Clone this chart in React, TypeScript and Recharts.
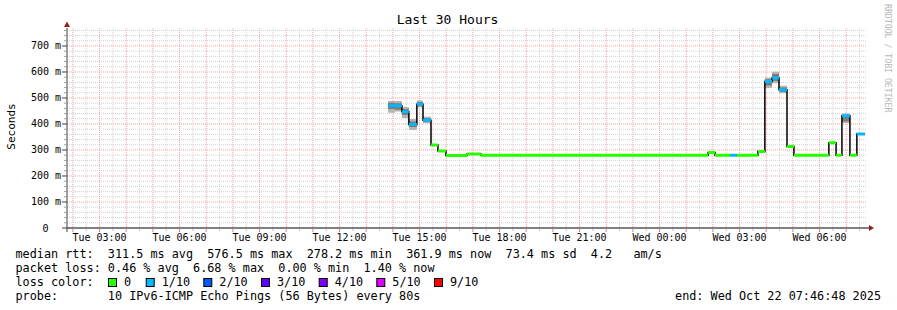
import React from 'react';
import { ComposedChart, Line, Area, XAxis, YAxis, CartesianGrid, ReferenceDot } from 'recharts';

// ---- data (time in hours since Tue 00:00, values in seconds) ----
const stepBounds = [13.82, 14.08, 14.34, 14.6, 14.9, 15.13, 15.43, 15.69, 15.99, 16.78, 17.3, 25.82, 26.08, 26.64, 26.9, 27.69, 27.95, 28.22, 28.48, 28.78, 29.04, 30.35, 30.62, 30.84, 31.14, 31.4, 31.7];
const medianRtt = [0.47, 0.47, 0.447, 0.398, 0.476, 0.414, 0.319, 0.296, 0.279, 0.285, 0.28, 0.29, 0.28, 0.28, 0.28, 0.294, 0.563, 0.577, 0.532, 0.313, 0.28, 0.328, 0.28, 0.432, 0.28, 0.362];
const lossLevel = [1, 1, 1, 1, 1, 1, 0, 0, 0, 0, 0, 0, 0, 1, 0, 0, 1, 1, 1, 0, 0, 0, 0, 1, 0, 1];
const smokeOuterLo = [0.443, 0.448, 0.423, 0.377, 0.464, 0.403, null, null, null, null, null, null, null, null, null, null, 0.538, 0.557, 0.518, null, null, null, null, 0.404, null, null];
const smokeOuterHi = [0.488, 0.488, 0.465, 0.419, 0.49, 0.428, null, null, null, null, null, null, null, null, null, null, 0.578, 0.601, 0.547, null, null, null, null, 0.44, null, null];
const smokeInnerLo = [0.458, 0.455, 0.435, 0.388, 0.468, 0.408, null, null, null, null, null, null, null, null, null, null, 0.548, 0.565, 0.524, null, null, null, null, 0.41, null, null];
const smokeInnerHi = [0.482, 0.48, 0.458, 0.41, 0.485, 0.422, null, null, null, null, null, null, null, null, null, null, 0.572, 0.592, 0.54, null, null, null, null, 0.436, null, null];

const lossColors = ['#26ff00', '#00b8ff', '#0059ff', '#5e00ff', '#7e00ff', '#dd00ff', '#ff0000'];
const lossLabels = ['0', '1/10', '2/10', '3/10', '4/10', '5/10', '9/10'];

const xLabelHours = [3, 6, 9, 12, 15, 18, 21, 24, 27, 30];
const xLabels = ['Tue 03:00', 'Tue 06:00', 'Tue 09:00', 'Tue 12:00', 'Tue 15:00', 'Tue 18:00', 'Tue 21:00', 'Wed 00:00', 'Wed 03:00', 'Wed 06:00'];

const statLines = [
  'median rtt:  311.5 ms avg  576.5 ms max  278.2 ms min  361.9 ms now  73.4 ms sd  4.2   am/s',
  'packet loss: 0.46 % avg  6.68 % max  0.00 % min  1.40 % now',
];
const probeLine = 'probe:       10 IPv6-ICMP Echo Pings (56 Bytes) every 80s';
const endLine = 'end: Wed Oct 22 07:46:48 2025';
const titleText = 'Last 30 Hours';

// ---- layout ----
const X0 = 1.78;
const X1 = 31.78;
const Y_MAX = 0.7692;
const FONT = '"DejaVu Sans Mono", monospace';

const majorX: number[] = [];
const minorX: number[] = [];
for (let h = 2; h <= 31; h++) majorX.push(h);
for (let h = 2; h <= 31; h++) minorX.push(h + 0.5);
const xTicks = [...majorX, ...minorX].filter((v) => v >= X0 && v <= X1).sort((a, b) => a - b);

const yTicks: number[] = [];
const majorY: number[] = [];
const minorY: number[] = [];
for (let k = 0; k <= 38; k++) {
  const v = (k * 2) / 100;
  yTicks.push(v);
  if (k % 5 === 0) {
    if (k > 0) majorY.push(v);
  } else minorY.push(v);
}

const rows: any[] = [];
for (let i = 0; i < medianRtt.length; i++) {
  const mk = (t: number) => {
    const r: any = { t, med: medianRtt[i] };
    lossColors.forEach((_, k) => {
      r['c' + k] = lossLevel[i] === k ? medianRtt[i] : null;
    });
    r.outer = smokeOuterLo[i] != null ? [smokeOuterLo[i], smokeOuterHi[i]] : null;
    r.inner = smokeInnerLo[i] != null ? [smokeInnerLo[i], smokeInnerHi[i]] : null;
    return r;
  };
  rows.push(mk(stepBounds[i]));
  rows.push(mk(stepBounds[i + 1]));
  if (i < medianRtt.length - 1) {
    const b: any = { t: stepBounds[i + 1], med: null, outer: null, inner: null };
    lossColors.forEach((_, k) => {
      b['c' + k] = null;
    });
    rows.push(b);
  }
}

const yPix = (props: any, v: number) => {
  const s = props && props.yAxis && props.yAxis.scale;
  if (typeof s === 'function') return s(v);
  const o = props.offset;
  return o.top + o.height * (1 - v / Y_MAX);
};
const xPix = (props: any, v: number) => {
  const s = props && props.xAxis && props.xAxis.scale;
  if (typeof s === 'function') return s(v);
  const o = props.offset;
  return o.left + (o.width * (v - X0)) / (X1 - X0);
};

const XTick = (p: any) => {
  const v = p.payload.value;
  const isHour = Math.abs(v - Math.round(v)) < 1e-6;
  const idx = xLabelHours.indexOf(v);
  return (
    <g>
      <line x1={p.x} x2={p.x} y1={p.y + 1} y2={p.y + (isHour ? 4 : 3)} stroke={isHour ? '#f08080' : '#c0c0c0'} />
      {idx >= 0 && (
        <text x={p.x} y={p.y + 13} textAnchor="middle" fontFamily={FONT} fontSize={10} fill="#000">
          {xLabels[idx]}
        </text>
      )}
    </g>
  );
};

const YTick = (p: any) => {
  const v = p.payload.value;
  const k = Math.round(v * 100);
  const major = k % 10 === 0;
  return (
    <g>
      <line x1={p.x - (major ? 5 : 3)} x2={p.x} y1={p.y} y2={p.y} stroke={major ? '#404040' : '#a0a0a0'} />
      {major && (
        <text x={k === 0 ? p.x - 18.5 : p.x - 6} y={p.y + 3.5} textAnchor="end" fontFamily={FONT} fontSize={10} fill="#000">
          {k === 0 ? '0' : `${k * 10} m`}
        </text>
      )}
    </g>
  );
};

const legendX = [108, 145.7, 203.3, 261, 318.7, 376.3, 434];

export default function App() {
  return (
    <div style={{ position: 'absolute', left: 0, top: 0, width: 897, height: 310, background: '#fff' }}>
      <ComposedChart width={897} height={310} data={rows} margin={{ top: 28, right: 30, left: 0, bottom: 62 }}>
        <CartesianGrid
          horizontalCoordinatesGenerator={(p: any) => minorY.map((v) => yPix(p, v))}
          verticalCoordinatesGenerator={(p: any) => minorX.map((v) => xPix(p, v))}
          stroke="#d2d2d2"
          strokeDasharray="1 1"
        />
        <CartesianGrid
          horizontalCoordinatesGenerator={(p: any) => majorY.map((v) => yPix(p, v))}
          verticalCoordinatesGenerator={(p: any) => majorX.map((v) => xPix(p, v))}
          stroke="#f2a0a0"
          strokeDasharray="1 1"
        />
        <XAxis
          dataKey="t"
          type="number"
          domain={[X0, X1]}
          allowDataOverflow
          ticks={xTicks}
          interval={0}
          tick={<XTick />}
          tickLine={false}
          tickSize={0}
          tickMargin={0}
          axisLine={{ stroke: '#000' }}
          height={20}
        />
        <YAxis
          type="number"
          domain={[0, Y_MAX]}
          allowDataOverflow
          ticks={yTicks}
          interval={0}
          tick={<YTick />}
          tickLine={false}
          tickSize={0}
          tickMargin={0}
          axisLine={{ stroke: '#404040' }}
          width={67}
        />
        <Area dataKey="outer" type="linear" stroke="none" fill="#b4b4b4" fillOpacity={1} isAnimationActive={false} dot={false} activeDot={false} />
        <Area dataKey="inner" type="linear" stroke="none" fill="#7c7c7c" fillOpacity={1} isAnimationActive={false} dot={false} activeDot={false} />
        <Line dataKey="med" type="linear" stroke="#000" strokeWidth={1.5} connectNulls dot={false} activeDot={false} isAnimationActive={false} />
        {lossColors.map((c, k) => (
          <Line key={k} dataKey={'c' + k} type="linear" stroke={c} strokeWidth={3} dot={false} activeDot={false} isAnimationActive={false} />
        ))}
        <ReferenceDot
          x={X0}
          y={Y_MAX}
          r={0}
          ifOverflow="visible"
          shape={(p: any) => (
            <polygon points={`${p.cx},${p.cy - 6.5} ${p.cx - 3},${p.cy - 1} ${p.cx + 3},${p.cy - 1}`} fill="#9b1c1c" />
          )}
        />
        <ReferenceDot
          x={X1}
          y={0}
          r={0}
          ifOverflow="visible"
          shape={(p: any) => (
            <g>
              <line x1={p.cx} x2={p.cx + 2} y1={p.cy} y2={p.cy} stroke="#000" />
              <polygon points={`${p.cx + 7},${p.cy} ${p.cx + 2},${p.cy - 3} ${p.cx + 2},${p.cy + 3}`} fill="#9b1c1c" />
            </g>
          )}
        />
        <ReferenceDot
          x={X0}
          y={0}
          r={0}
          ifOverflow="visible"
          shape={(p: any) => <line x1={p.cx} x2={p.cx} y1={p.cy} y2={p.cy + 4} stroke="#404040" />}
        />
      </ComposedChart>
      <svg width={897} height={310} style={{ position: 'absolute', left: 0, top: 0, pointerEvents: 'none' }} fontFamily={FONT}>
        <text x={447.5} y={24} textAnchor="middle" fontSize={13} fill="#000">
          {titleText}
        </text>
        <text transform="translate(15,126.5) rotate(-90)" textAnchor="middle" fontSize={11} fill="#000">
          Seconds
        </text>
        <text transform="translate(884.5,4) rotate(90)" fontSize={8.2} fill="#b8b8b8">
          RRDTOOL / TOBI OETIKER
        </text>
        {statLines.map((s, i) => (
          <text key={i} x={15.5} y={258.3 + i * 14} fontSize={11.8} fill="#000" xmlSpace="preserve" style={{ whiteSpace: 'pre' }}>
            {s}
          </text>
        ))}
        <text x={15.5} y={286} fontSize={11.8} fill="#000">
          loss color:
        </text>
        {lossColors.map((c, k) => (
          <g key={k}>
            <rect x={legendX[k] + 0.5} y={278.5} width={8} height={8} fill={c} stroke="#000" strokeWidth={1} />
            <text x={legendX[k] + 16} y={286} fontSize={11.8} fill="#000">
              {lossLabels[k]}
            </text>
          </g>
        ))}
        <text x={15.5} y={300} fontSize={11.8} fill="#000" xmlSpace="preserve" style={{ whiteSpace: 'pre' }}>
          {probeLine}
        </text>
        <text x={881} y={300} textAnchor="end" fontSize={11.8} fill="#000">
          {endLine}
        </text>
      </svg>
    </div>
  );
}
